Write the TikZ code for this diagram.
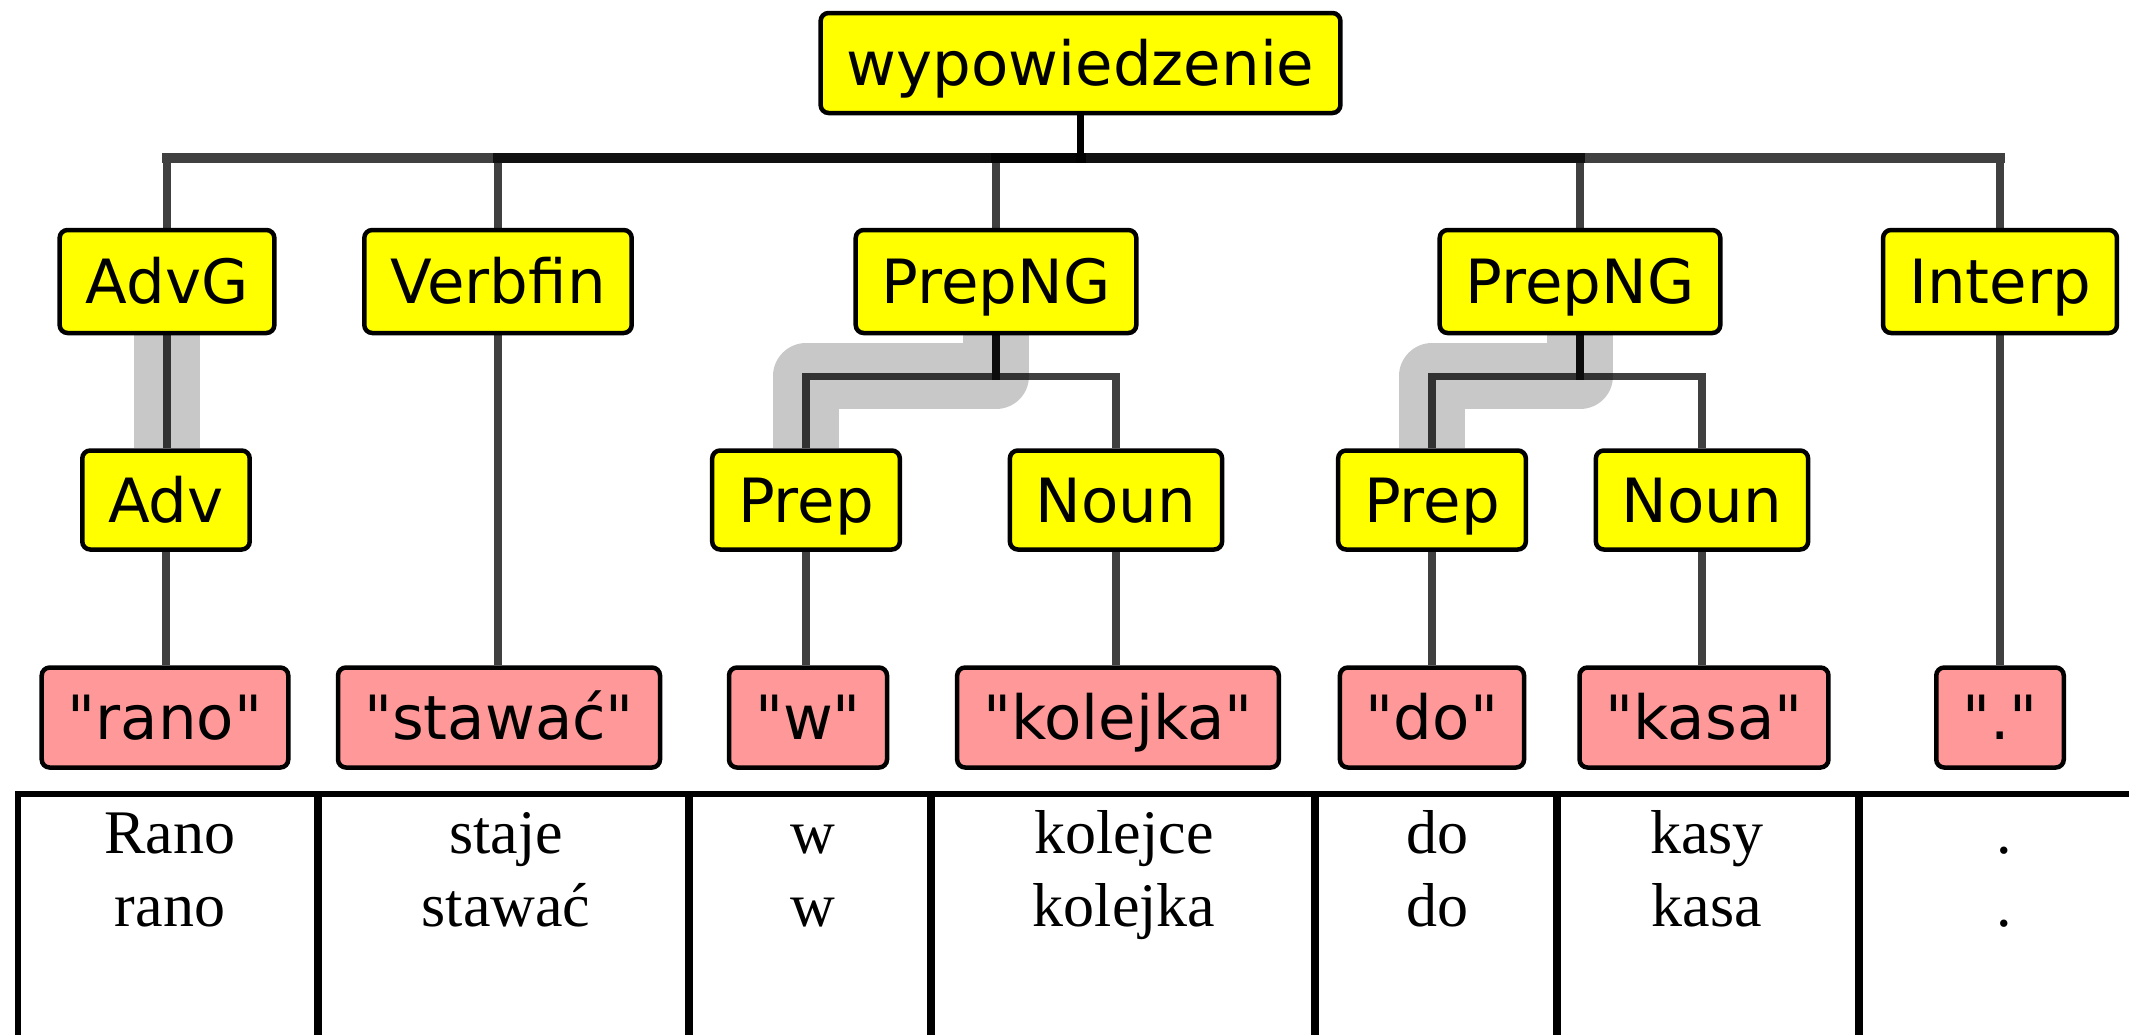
\documentclass[tikz,border=0pt]{standalone}
\usepackage{fontspec}
\setmainfont{Liberation Serif}
\newfontfamily\boxfont{DejaVu Sans}
\pgfdeclarelayer{hl}
\pgfdeclarelayer{edges}
\pgfsetlayers{hl,edges,main}
\definecolor{boxyellow}{HTML}{FFFF00}
\definecolor{boxpink}{HTML}{FF9999}
\definecolor{hlgray}{HTML}{C8C8C8}
\tikzset{
  cat/.style={draw=black, line width=4.5pt, fill=boxyellow, rounded corners=8pt,
    font=\boxfont\fontsize{61}{61}\selectfont, inner xsep=26pt, inner ysep=0pt,
    minimum height=100pt, text height=44.5pt, text depth=0pt},
  word/.style={cat, fill=boxpink},
  edge/.style={draw=black, draw opacity=0.75, line width=7.5pt},
  busbar/.style={draw=black, draw opacity=0.75, line width=10pt, line cap=rect},
  hlpath/.style={draw=hlgray, line width=66pt, line join=round},
  cell/.style={font=\fontsize{62}{72}\selectfont, anchor=base, inner sep=0pt},
  grid/.style={draw=black, line width=6pt},
  innergrid/.style={draw=black, line width=8pt}
}
\begin{document}
\begin{tikzpicture}[x=1pt, y=-1pt]
\useasboundingbox (0,0) rectangle (2129,1034);

% level 0
\node[cat] (wyp) at (1080.5,63) {wypowiedzenie};
% level 1
\node[cat, minimum height=103pt] (advg) at (167,281.5) {AdvG};
\node[cat, minimum height=103pt] (verbfin) at (498,281.5) {Verbfin};
\node[cat, minimum height=103pt] (png1) at (996,281.5) {PrepNG};
\node[cat, minimum height=103pt] (png2) at (1580,281.5) {PrepNG};
\node[cat, minimum height=103pt] (interp) at (2000,281.5) {Interp};
% level 2
\node[cat, minimum height=99pt] (adv) at (166,500) {Adv};
\node[cat, minimum height=99pt] (prep1) at (806,500) {Prep};
\node[cat, minimum height=99pt] (noun1) at (1116,500) {Noun};
\node[cat, minimum height=99pt] (prep2) at (1432,500) {Prep};
\node[cat, minimum height=99pt] (noun2) at (1702,500) {Noun};
% words
\node[word] (rano) at (165,717.5) {"rano"};
\node[word] (stawac) at (499,717.5) {"stawać"};
\node[word] (w) at (808,717.5) {"w"};
\node[word] (kolejka) at (1118,717.5) {"kolejka"};
\node[word] (do) at (1432,717.5) {"do"};
\node[word] (kasa) at (1704,717.5) {"kasa"};
\node[word] (dot) at (2000,717.5) {"."};

% background and highlights
\begin{pgfonlayer}{hl}
\fill[white] (0,0) rectangle (2129,1034);
\draw[hlpath] (advg.south) -- (advg.south |- adv.north);
\draw[hlpath] (png1.south) -- ++(0,41) -| (prep1.north);
\draw[hlpath] (png2.south) -- ++(0,41) -| (prep2.north);
\end{pgfonlayer}

% edges
\begin{pgfonlayer}{edges}
\foreach \c in {advg,verbfin,png1,png2,interp}{
  \draw[edge] (wyp.south) -- ([yshift=-38pt]wyp.south);
  \draw[busbar] ([yshift=-43pt]wyp.south) -- ([yshift=-43pt]wyp.south -| \c.north);
  \draw[edge] ([yshift=-48pt]wyp.south -| \c.north) -- (\c.north);
}
\draw[edge] (advg.south) -- (advg.south |- adv.north);
\draw[edge] (png1.south) -- ++(0,41) -| (prep1.north);
\draw[edge] (png1.south) -- ++(0,41) -| (noun1.north);
\draw[edge] (png2.south) -- ++(0,41) -| (prep2.north);
\draw[edge] (png2.south) -- ++(0,41) -| (noun2.north);
\draw[edge] (adv.south) -- (adv.south |- rano.north);
\draw[edge] (verbfin.south) -- (verbfin.south |- stawac.north);
\draw[edge] (prep1.south) -- (prep1.south |- w.north);
\draw[edge] (noun1.south) -- (noun1.south |- kolejka.north);
\draw[edge] (prep2.south) -- (prep2.south |- do.north);
\draw[edge] (noun2.south) -- (noun2.south |- kasa.north);
\draw[edge] (interp.south) -- (interp.south |- dot.north);
\end{pgfonlayer}

% table
\draw[grid] (18,1040) -- (18,794) -- (2135,794);
\foreach \x in {318,689,931,1315,1557,1859}
  \draw[innergrid] (\x,794) -- (\x,1040);

\node[cell] (c1a) at (170,853) {Rano};
\node[cell] (c1b) at (170,926) {rano};
\node[cell] (c2a) at (506,853) {staje};
\node[cell] (c2b) at (506,926) {stawać};
\node[cell] (c3a) at (813,853) {w};
\node[cell] (c3b) at (813,926) {w};
\node[cell] (c4a) at (1124,853) {kolejce};
\node[cell] (c4b) at (1124,926) {kolejka};
\node[cell] (c5a) at (1437,853) {do};
\node[cell] (c5b) at (1437,926) {do};
\node[cell] (c6a) at (1707,853) {kasy};
\node[cell] (c6b) at (1707,926) {kasa};
\node[cell] (c7a) at (2004,853) {.};
\node[cell] (c7b) at (2004,926) {.};
\end{tikzpicture}
\end{document}
